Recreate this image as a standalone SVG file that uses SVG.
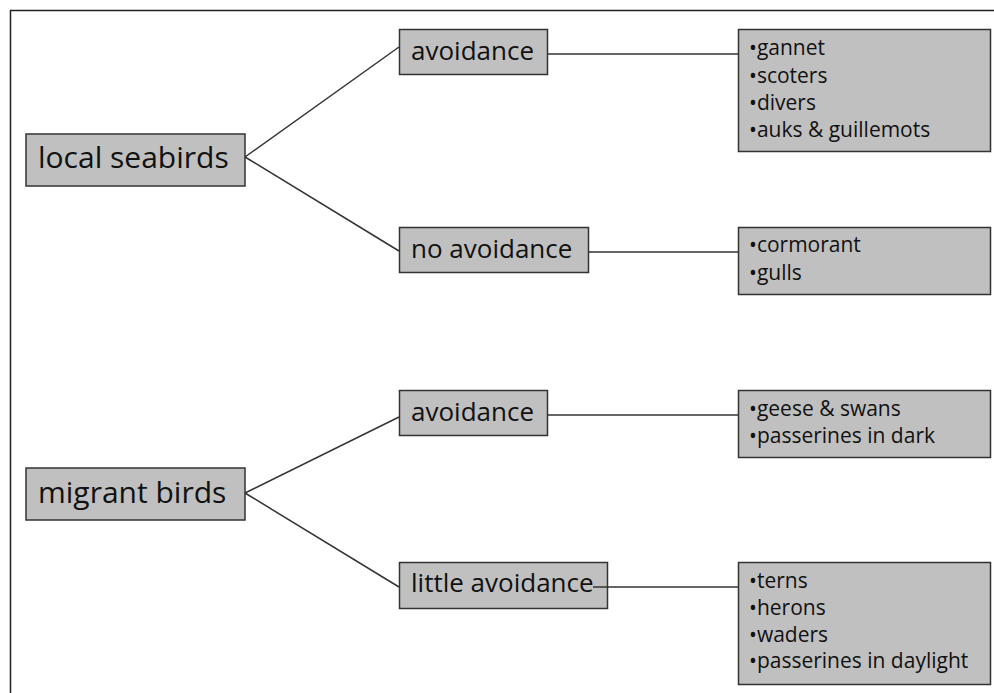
<svg xmlns="http://www.w3.org/2000/svg" width="994" height="693" viewBox="0 0 994 693">
<style>
.box{fill:#c0c0c0;stroke:#333;stroke-width:1.5}
.t{font-family:"Open Sans","Noto Sans",sans-serif;fill:#111}
.big{font-size:30px}
.mid{font-size:26px}
.sm{font-size:21px}
.c{stroke:#333;stroke-width:1.5;fill:none}
</style>
<rect x="0" y="0" width="994" height="693" fill="#fff"/>
<rect x="10.5" y="10.5" width="1000" height="700" fill="none" stroke="#222" stroke-width="1.5"/>
<g id="connectors">
<line class="c" x1="245" y1="157" x2="399" y2="47"/>
<line class="c" x1="245" y1="157" x2="399" y2="251"/>
<line class="c" x1="547" y1="54" x2="738" y2="54"/>
<line class="c" x1="588" y1="252" x2="738" y2="252"/>
<line class="c" x1="245" y1="493" x2="399" y2="417"/>
<line class="c" x1="245" y1="493" x2="399" y2="587"/>
<line class="c" x1="547" y1="415" x2="738" y2="415"/>
<line class="c" x1="593" y1="587" x2="738" y2="587"/>
</g>
<g id="local-seabirds">
<rect class="box" x="26" y="134" width="219" height="52"/>
<text class="t big" x="38" y="168">local seabirds</text>
</g>
<g id="avoidance-1">
<rect class="box" x="399.5" y="29.5" width="148" height="45"/>
<text class="t mid" x="411" y="60">avoidance</text>
</g>
<g id="no-avoidance">
<rect class="box" x="399.5" y="227.5" width="189" height="45"/>
<text class="t mid" x="411" y="258">no avoidance</text>
</g>
<g id="list-1">
<rect class="box" x="738.5" y="29.5" width="252" height="122"/>
<text class="t sm" x="749" y="55">•gannet</text>
<text class="t sm" x="749" y="83">•scoters</text>
<text class="t sm" x="749" y="110">•divers</text>
<text class="t sm" x="749" y="137">•auks &amp; guillemots</text>
</g>
<g id="list-2">
<rect class="box" x="738.5" y="227.5" width="252" height="67"/>
<text class="t sm" x="749" y="252">•cormorant</text>
<text class="t sm" x="749" y="280">•gulls</text>
</g>
<g id="migrant-birds">
<rect class="box" x="26" y="468" width="219" height="52"/>
<text class="t big" x="38" y="503">migrant birds</text>
</g>
<g id="avoidance-2">
<rect class="box" x="399.5" y="390.5" width="148" height="45"/>
<text class="t mid" x="411" y="421">avoidance</text>
</g>
<g id="little-avoidance">
<rect class="box" x="399.5" y="562.5" width="208" height="46"/>
<text class="t mid" x="411" y="592">little avoidance</text>
</g>
<line class="c" x1="593" y1="587" x2="608" y2="587"/>
<g id="list-3">
<rect class="box" x="738.5" y="390.5" width="252" height="67"/>
<text class="t sm" x="749" y="416">•geese &amp; swans</text>
<text class="t sm" x="749" y="443">•passerines in dark</text>
</g>
<g id="list-4">
<rect class="box" x="738.5" y="562.5" width="252" height="122"/>
<text class="t sm" x="749" y="588">•terns</text>
<text class="t sm" x="749" y="615">•herons</text>
<text class="t sm" x="749" y="642">•waders</text>
<text class="t sm" x="749" y="668">•passerines in daylight</text>
</g>
</svg>
